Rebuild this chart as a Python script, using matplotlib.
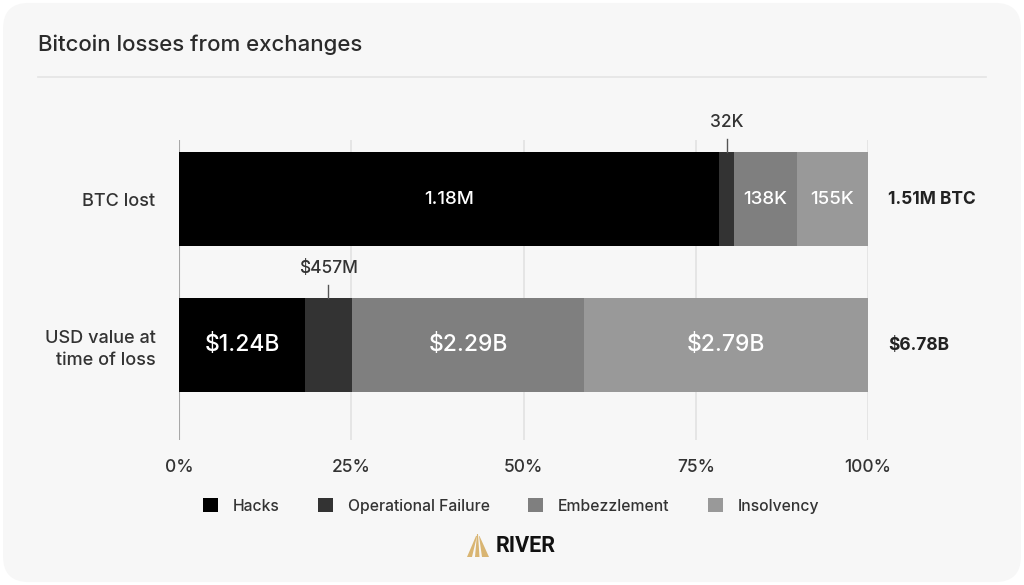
import matplotlib
matplotlib.use("Agg")
import matplotlib.pyplot as plt
from matplotlib.patches import FancyBboxPatch, Polygon, Patch
from matplotlib.lines import Line2D
import numpy as np

plt.rcParams['font.family'] = ['Inter', 'DejaVu Sans']
plt.rcParams['font.weight'] = 'medium'

# ---- data ----
rows = ["BTC lost", "USD value at\ntime of loss"]
series = ["Hacks", "Operational Failure", "Embezzlement", "Insolvency"]
colors = ["#000000", "#333333", "#7f7f7f", "#999999"]
btc_values = [1.18, 0.032, 0.138, 0.155]          # million BTC
usd_values = [1.24, 0.457, 2.29, 2.79]            # billion USD
btc_labels = ["1.18M", "32K", "138K", "155K"]
usd_labels = ["$1.24B", "$457M", "$2.29B", "$2.79B"]
totals = ["1.51M BTC", "$6.78B"]
xticks = [0, 25, 50, 75, 100]
xticklabels = ["0%", "25%", "50%", "75%", "100%"]

W, H = 1024, 585
fig = plt.figure(figsize=(W / 100, H / 100), dpi=100)
fig.patch.set_facecolor("white")
card = FancyBboxPatch((0.003, 0.005), 0.994, 0.99, boxstyle="round,pad=0,rounding_size=0.025",
                      transform=fig.transFigure, facecolor="#f7f7f7", edgecolor="none",
                      mutation_aspect=W / H, zorder=-10)
fig.patches.append(card)

def fx(px): return px / W
def fy(py): return 1 - py / H

# title + separator
fig.text(fx(38), fy(45), "Bitcoin losses from exchanges", fontsize=16, color="#2b2b2b",
         ha="left", va="center", fontweight="medium")
fig.add_artist(Line2D([fx(38), fx(986)], [fy(77), fy(77)], color="#e4e4e4", lw=1.2,
                      transform=fig.transFigure))

ax = fig.add_axes([fx(179), fy(440), fx(868) - fx(179), (440 - 140) / H])
ax.set_facecolor("none")

data = [btc_values, usd_values]
labels = [btc_labels, usd_labels]
bar_h = 94 / 146
for i, (vals, labs) in enumerate(zip(data, labels)):
    pct = np.array(vals) / np.sum(vals) * 100
    left = 0
    for j, p in enumerate(pct):
        ax.barh(i, p, left=left, height=bar_h, color=colors[j], zorder=3, linewidth=0)
        cx = left + p / 2
        small = p < 10 and j == 1
        if small:
            top = i - bar_h / 2
            ax.plot([cx, cx], [top, top - 0.09], color="#555555", lw=1, zorder=4, clip_on=False)
            ax.text(cx, top - 0.2, labs[j], ha="center", va="center", fontsize=12.5,
                    color="#333333", zorder=5, clip_on=False, fontweight="medium")
        else:
            ax.text(cx, i, labs[j], ha="center", va="center", fontweight="medium",
                    fontsize=(13.5 if i == 0 else 16.5), color="white", zorder=5)
        left += p
    ax.text(102.9, i, totals[i], ha="left", va="center", fontsize=12.5, fontweight="bold",
            color="#222222")

ax.set_xlim(0, 100)
ax.set_ylim(1 + 95 / 146, -59 / 146)
ax.set_xticks(xticks)
ax.set_xticklabels(xticklabels, fontsize=12.5, color="#333333", fontweight="medium")
ax.set_yticks([0, 1])
ax.set_yticklabels(rows, fontsize=13, color="#333333", linespacing=1.35, fontweight="medium")
ax.tick_params(axis="both", length=0)
ax.tick_params(axis="x", pad=14)
ax.tick_params(axis="y", pad=17)
for s in ax.spines.values():
    s.set_visible(False)
for t in xticks[1:]:
    ax.axvline(t, color="#e2e2e2", lw=1.2, zorder=1)
ax.axvline(0, color="#a8a8a8", lw=1.5, zorder=2)

handles = [Patch(facecolor=c, edgecolor="none", label=s) for c, s in zip(colors, series)]
fig.legend(handles=handles, loc="center", bbox_to_anchor=(fx(511), fy(506)), ncol=4,
           frameon=False, prop={"size": 11.3, "weight": "medium"}, handlelength=0.95,
           handleheight=0.95, handletextpad=0.95, columnspacing=2.45, labelcolor="#333333")

# RIVER logo
gold = "#d9b572"
stripes = [
    [(467, 557), (472, 557), (477, 536), (476, 536)],
    [(475, 557), (479.5, 557), (478, 534), (477, 534)],
    [(482, 557), (489, 557), (479.5, 536), (479, 536)],
]
for st in stripes:
    fig.add_artist(Polygon([(fx(x), fy(y)) for x, y in st], closed=True, facecolor=gold,
                           edgecolor="none", transform=fig.transFigure))
fig.text(fx(496), fy(546), "RIVER", fontsize=15.5, fontweight="bold", color="#111111",
         ha="left", va="center", family=["Roboto", "DejaVu Sans"])

fig.savefig("out.png", dpi=100, facecolor=fig.get_facecolor())
